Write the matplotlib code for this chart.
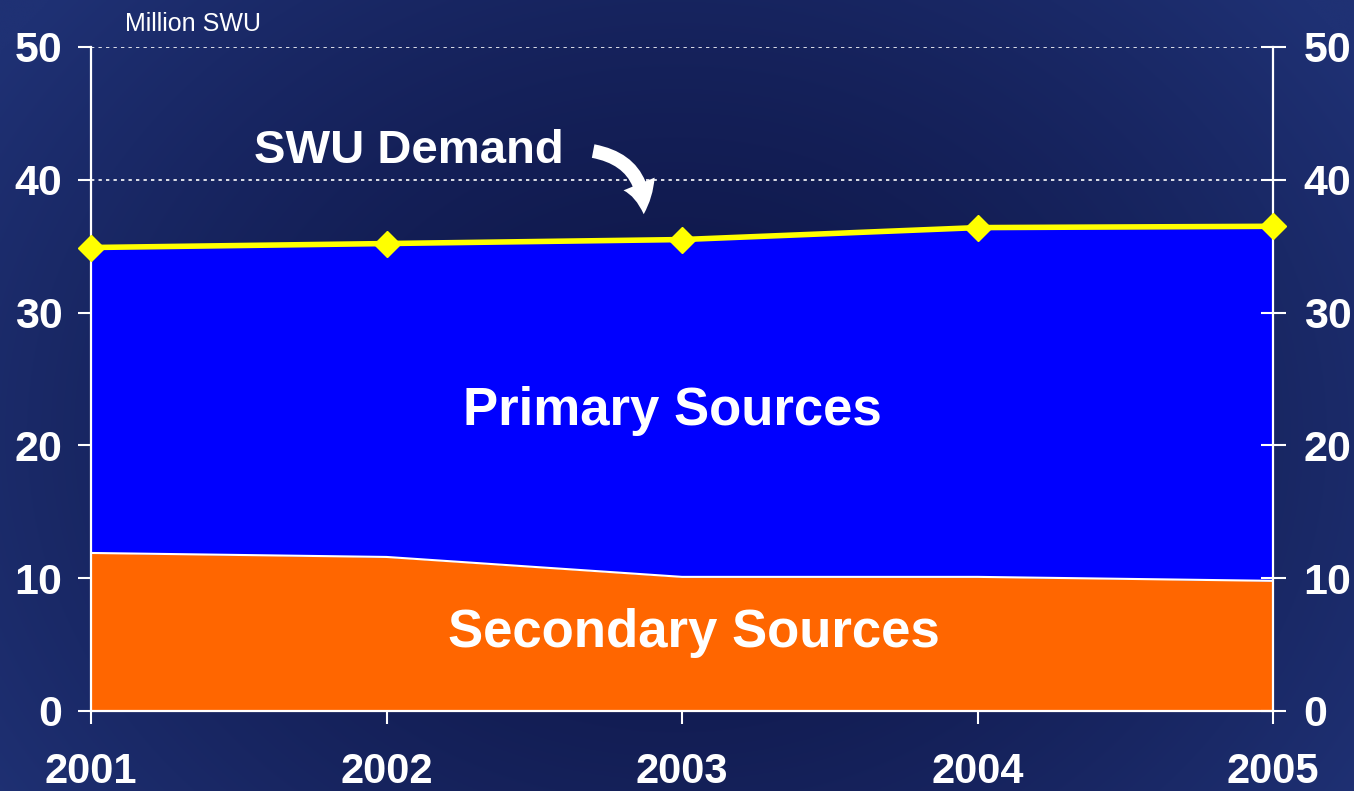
import numpy as np
import matplotlib
matplotlib.use('Agg')
import matplotlib.pyplot as plt

# data
years = [2001, 2002, 2003, 2004, 2005]
swu_demand = [34.9, 35.2, 35.5, 36.4, 36.5]
secondary = [11.9, 11.6, 10.1, 10.1, 9.8]
y_ticks = [0, 10, 20, 30, 40, 50]

plt.rcParams['font.family'] = ['Liberation Sans', 'DejaVu Sans']

fig = plt.figure(figsize=(13.54, 7.91), dpi=100)

# background: dark navy radial gradient
bg = fig.add_axes([0, 0, 1, 1])
yy, xx = np.mgrid[0:1:400j, 0:1:700j]
r = np.sqrt(((xx - 0.5) * 1.4) ** 2 + (yy - 0.55) ** 2)
r = np.clip(r / 0.85, 0, 1) ** 1.5
dark = np.array([0x0e, 0x16, 0x48]) / 255
light = np.array([0x1f, 0x31, 0x74]) / 255
img = dark[None, None, :] * (1 - r[..., None]) + light[None, None, :] * r[..., None]
bg.imshow(img, aspect='auto', extent=[0, 1, 0, 1])
bg.axis('off')

ax = fig.add_axes([91 / 1354, 80 / 791, 1182 / 1354, 664 / 791])
ax.patch.set_alpha(0)

ax.fill_between(years, 0, secondary, color='#ff6600', lw=0, zorder=2)
ax.fill_between(years, secondary, swu_demand, color='#0000ff', lw=0, zorder=2)
ax.plot(years, secondary, color='white', lw=1.5, zorder=3)
ax.plot(years, swu_demand, color='#ffff00', lw=4, marker='D', ms=13,
        zorder=5, clip_on=False)

ax.set_xlim(2001, 2005)
ax.set_ylim(0, 50)
ax.set_xticks(years)
ax.set_yticks(y_ticks)

for y in [40, 50]:
    ax.axhline(y, color='white', lw=1.2, ls=(0, (2, 2.5)), zorder=1)

for s in ['left', 'right', 'bottom']:
    ax.spines[s].set_color('white')
    ax.spines[s].set_linewidth(1.6)
ax.spines['top'].set_visible(False)

ax.tick_params(axis='x', colors='white', direction='out', length=9.5, width=1.5,
               pad=20, labelsize=30)
ax.tick_params(axis='y', which='both', colors='white', length=9.5, width=1.5,
               pad=11, labelsize=31, right=False)
for lab in ax.get_xticklabels() + ax.get_yticklabels():
    lab.set_fontweight('bold')

ax2 = ax.twinx()
ax2.set_ylim(0, 50)
ax2.set_yticks(y_ticks)
ax2.tick_params(axis='y', colors='white', direction='inout', length=18, width=1.5,
                pad=13, labelsize=31)
for lab in ax2.get_yticklabels():
    lab.set_fontweight('bold')
for s in ax2.spines.values():
    s.set_visible(False)

ax.text(2002.076, 42.2, 'SWU Demand', color='white', fontsize=34,
        fontweight='bold', ha='center', va='center', zorder=6)
ax.text(2002.966, 22.6, 'Primary Sources', color='white', fontsize=38,
        fontweight='bold', ha='center', va='center', zorder=6)
ax.text(2003.04, 5.9, 'Secondary Sources', color='white', fontsize=38,
        fontweight='bold', ha='center', va='center', zorder=6)
fig.text(125 / 1354, 1 - 24 / 791, 'Million SWU', color='white', fontsize=18,
         ha='left', va='center')

ax.annotate('', xy=(2002.87, 37.2), xytext=(2002.69, 42.2),
            arrowprops=dict(arrowstyle='simple,head_width=1.1,head_length=1.0,tail_width=0.45',
                            connectionstyle='arc3,rad=-0.45', color='white', lw=0,
                            mutation_scale=22), zorder=6)

fig.savefig('out.png', dpi=100)
